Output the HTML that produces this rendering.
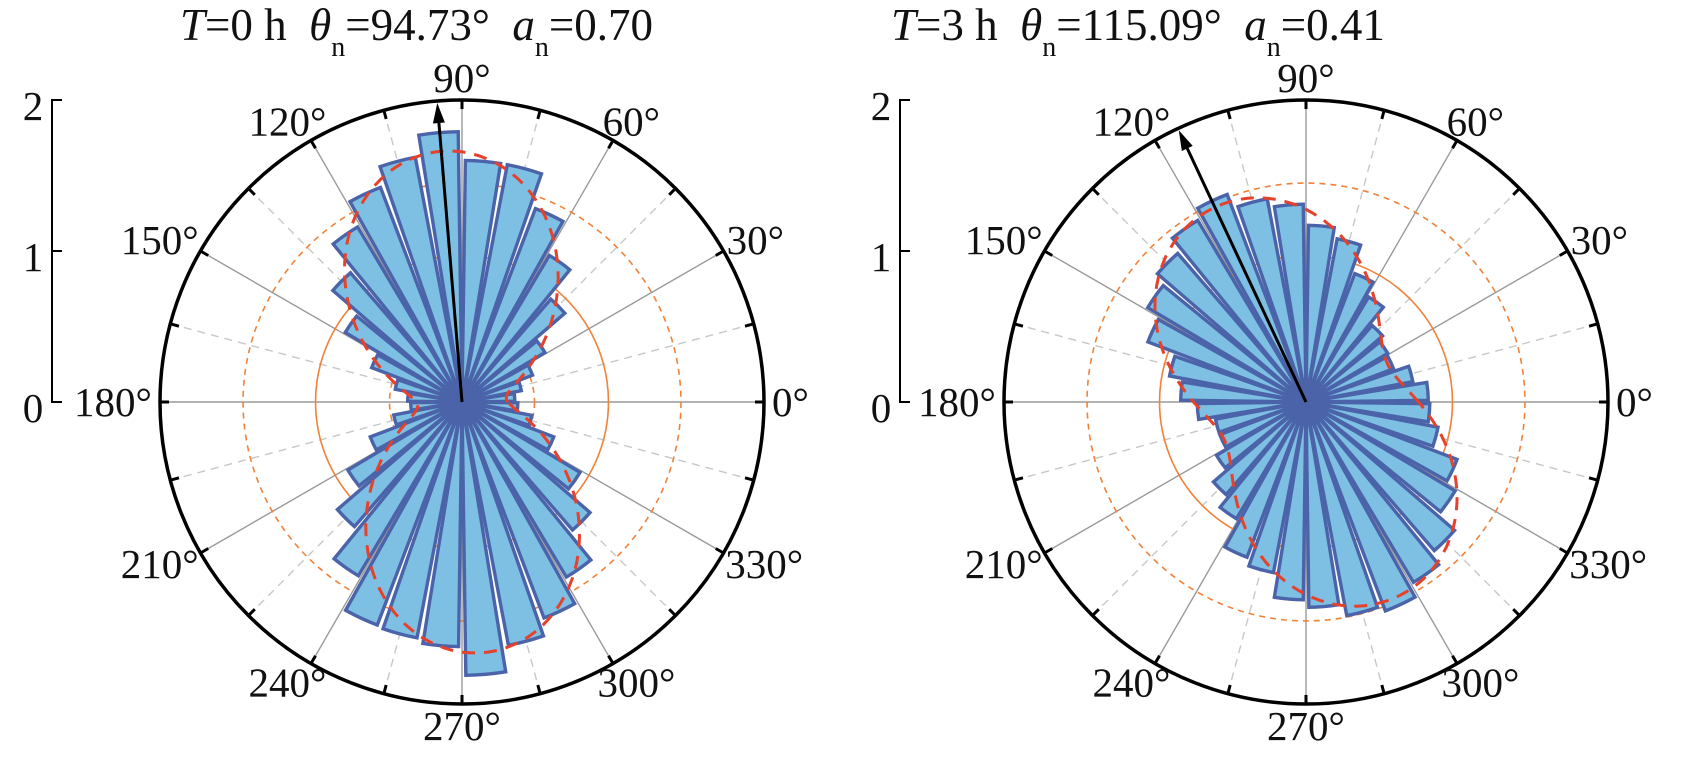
<!DOCTYPE html>
<html><head><meta charset="utf-8">
<style>
html,body{margin:0;padding:0;background:#fff;}
svg{display:block;font-family:"Liberation Serif",serif;}
</style></head>
<body>
<svg id="fig" width="1682" height="761" viewBox="0 0 1682 761" xmlns="http://www.w3.org/2000/svg"></svg>
<script>
// bin starts (deg)
const binStarts = [0,10,20,30,40,50,60,70,80,90,100,110,120,130,140,150,160,170,180,190,200,210,220,230,240,250,260,270,280,290,300,310,320,330,340,350];
const valuesT0 = [0.35,0.40,0.50,0.64,0.90,1.13,1.37,1.60,1.60,1.79,1.65,1.52,1.35,1.13,0.90,0.64,0.45,0.36,0.34,0.46,0.65,0.88,1.09,1.34,1.58,1.59,1.62,1.81,1.64,1.53,1.35,1.12,0.91,0.65,0.47,0.37];
const valuesT3 = [0.81,0.72,0.62,0.63,0.67,0.81,0.91,1.10,1.17,1.31,1.37,1.47,1.40,1.30,1.22,1.12,0.92,0.83,0.72,0.61,0.61,0.69,0.81,0.90,1.10,1.15,1.31,1.36,1.44,1.48,1.39,1.30,1.15,1.07,0.89,0.82];
const fitMean = [0.98, 1.01];
const fitAniso = [0.70, 0.41];
const fitDir = [94.73, 115.09];
const ringRadii = [0.48, 0.97, 1.45];
const scaleTicks = [0, 1, 2];
const angleLabels = [0,30,60,90,120,150,180,210,240,270,300,330];
const titles = [["0","94.73","0.70"],["3","115.09","0.41"]];

const NS="http://www.w3.org/2000/svg";
const svg=document.getElementById('fig');
const R=302, RMAX=2, CY=402;
function el(tag,attrs,parent){const e=document.createElementNS(NS,tag);for(const k in attrs)e.setAttribute(k,attrs[k]);(parent||svg).appendChild(e);return e;}
function rad(v){return v/RMAX*R;}
function pt(cx,deg,r){const a=deg*Math.PI/180;return [cx+r*Math.cos(a),CY-r*Math.sin(a)];}

function drawPanel(idx,cx,axisX,values,titleX){
  const g=el('g',{});
  
  
  for(let d=0;d<360;d+=15){
    const p=pt(cx,d,R);
    const major=d%30===0;
    const l=el('line',{x1:cx,y1:CY,x2:p[0],y2:p[1],stroke:major?'#9a9a9a':'#c8c8c8','stroke-width':1.4,'stroke-dasharray':major?'none':'8 6'},g);
    
    
  }
  ringRadii.forEach((rv,i)=>{
    const c=el('circle',{cx:cx,cy:CY,r:rad(rv),fill:'none',stroke:'#f0823a','stroke-width':1.6,'stroke-dasharray':i===1?'none':'6 5'},g);
    
    
  });
  binStarts.forEach((b,i)=>{
    const r=rad(values[i]);
    const a0=b+0.8,a1=b+9.2;
    const p0=pt(cx,a0,r),p1=pt(cx,a1,r);
    const d=`M${cx},${CY} L${p0[0]},${p0[1]} A${r},${r} 0 0 0 ${p1[0]},${p1[1]} Z`;
    const p=el('path',{d:d,fill:'#7dc0e3',stroke:'#4b63a9','stroke-width':3.4,'stroke-linejoin':'miter'},g);
    
    
  });
  let pts=[];
  for(let d=0;d<=360;d+=2){
    const rv=fitMean[idx]*(1+fitAniso[idx]*Math.cos(2*(d-fitDir[idx])*Math.PI/180));
    const p=pt(cx,d,rad(rv));pts.push(p[0].toFixed(1)+','+p[1].toFixed(1));
  }
  const fc=el('polyline',{points:pts.join(' '),fill:'none',stroke:'#e5412b','stroke-width':3,'stroke-dasharray':'13 9'},g);
  
  
  const tip=pt(cx,fitDir[idx],R-2), base=pt(cx,fitDir[idx],R-22);
  const ar=el('line',{x1:cx,y1:CY,x2:base[0],y2:base[1],stroke:'#000','stroke-width':3},g);
  
  
  const a=fitDir[idx]*Math.PI/180, nx=-Math.sin(a), ny=-Math.cos(a);
  const l1=[base[0]+6*nx,base[1]+6*ny], l2=[base[0]-6*nx,base[1]-6*ny];
  const ah=el('polygon',{points:`${tip[0]},${tip[1]} ${l1[0]},${l1[1]} ${l2[0]},${l2[1]}`,fill:'#000'},g);
  
  
  const oc=el('circle',{cx:cx,cy:CY,r:R,fill:'none',stroke:'#000','stroke-width':3.5},g);
  
  
  for(let d=0;d<360;d+=15){
    const p=pt(cx,d,R),q=pt(cx,d,R-9);
    const t=el('line',{x1:p[0],y1:p[1],x2:q[0],y2:q[1],stroke:'#000','stroke-width':3},g);
    
    
  }
  angleLabels.forEach(d=>{
    const txt=d+'°';
    const w=txt.length*20.5-4, h=28;
    const p=pt(cx,d,R+6), ar2=d*Math.PI/180;
    const x=p[0]+(w/2+2)*Math.cos(ar2), y=p[1]-(h/2+2)*Math.sin(ar2)+h/2;
    const t=el('text',{x:x,y:y,'text-anchor':'middle','font-size':41,fill:'#111'},g);
    t.textContent=txt;
    
    
  });
  const ax=el('line',{x1:axisX,y1:CY-R,x2:axisX,y2:CY,stroke:'#000','stroke-width':2},g);
  
  
  scaleTicks.forEach(v=>{
    const y=CY-rad(v);
    const tk=el('line',{x1:axisX-1,y1:y,x2:axisX+10,y2:y,stroke:'#000','stroke-width':2},g);
    
    
    const t=el('text',{x:axisX-19,y:y+20,'text-anchor':'middle','font-size':41,fill:'#111'},g);
    t.textContent=v;
    
    
  });
  const tt=titles[idx];
  const t=el('text',{x:titleX,y:40,'font-size':45,fill:'#111'},g);
  
  
  t.innerHTML=`<tspan font-style="italic">T</tspan>=${tt[0]} h\u00a0\u00a0<tspan font-style="italic">θ</tspan><tspan font-size="28" dy="16">n</tspan><tspan dy="-16">=${tt[1]}°\u00a0\u00a0</tspan><tspan font-style="italic">a</tspan><tspan font-size="28" dy="16">n</tspan><tspan dy="-16">=${tt[2]}</tspan>`;
}
drawPanel(0,462,52,valuesT0,180);
drawPanel(1,1306,900,valuesT3,891);
</script>
</body></html>
